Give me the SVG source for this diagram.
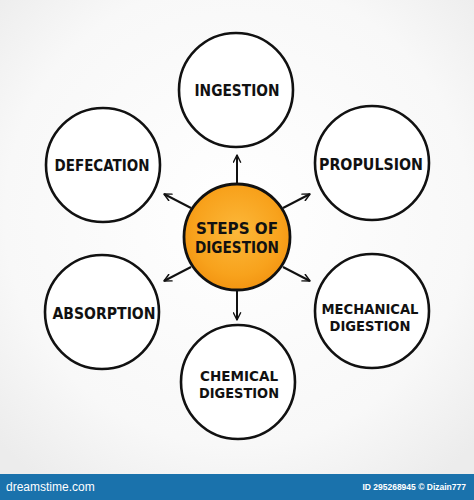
<svg xmlns="http://www.w3.org/2000/svg" width="474" height="500" viewBox="0 0 474 500">
<defs>
<radialGradient id="bg" cx="50%" cy="45%" r="70%">
<stop offset="0" stop-color="#ffffff"/>
<stop offset="0.7" stop-color="#f8f8f8"/>
<stop offset="1" stop-color="#ececec"/>
</radialGradient>
<radialGradient id="org" cx="50%" cy="45%" r="55%">
<stop offset="0" stop-color="#fcb83a"/>
<stop offset="0.75" stop-color="#f8a21c"/>
<stop offset="1" stop-color="#f39512"/>
</radialGradient>
<marker id="ah" viewBox="0 0 10 10" refX="9" refY="5" markerWidth="9" markerHeight="9" markerUnits="userSpaceOnUse" orient="auto">
<path d="M1,1 L9,5 L1,9" fill="none" stroke="#111" stroke-width="1.6" stroke-linecap="round" stroke-linejoin="round"/>
</marker>
</defs>
<style>
.node{fill:#fff;stroke:#111;stroke-width:2.6}
.lbl{font-family:"DejaVu Sans Condensed","Liberation Sans",sans-serif;font-weight:bold;font-size:15px;fill:#111;text-anchor:middle}
.two{font-size:13.5px}
.ctr{font-size:16px}
.con{stroke:#111;stroke-width:2;fill:none;marker-end:url(#ah)}
.bar{font-family:"Liberation Sans",sans-serif;fill:#fff}
</style>
<rect width="474" height="474" fill="url(#bg)"/>
<g id="connectors">
<line class="con" x1="237" y1="184" x2="237" y2="155"/>
<line class="con" x1="237" y1="290" x2="237" y2="320"/>
<line class="con" x1="283" y1="208" x2="310" y2="194"/>
<line class="con" x1="191" y1="208" x2="164" y2="194"/>
<line class="con" x1="191" y1="267" x2="164" y2="281"/>
<line class="con" x1="283" y1="267" x2="310" y2="281"/>
</g>
<g id="center">
<circle cx="237" cy="237" r="53" fill="url(#org)" stroke="#111" stroke-width="2.8"/>
<text class="lbl ctr" x="237" y="234" textLength="82" lengthAdjust="spacingAndGlyphs">STEPS OF</text>
<text class="lbl ctr" x="237" y="253" textLength="84" lengthAdjust="spacingAndGlyphs">DIGESTION</text>
</g>
<g id="ingestion">
<circle class="node" cx="236" cy="90" r="57"/>
<text class="lbl" x="237" y="96" textLength="85" lengthAdjust="spacingAndGlyphs">INGESTION</text>
</g>
<g id="propulsion">
<circle class="node" cx="372" cy="163" r="57"/>
<text class="lbl" x="371" y="170" textLength="104" lengthAdjust="spacingAndGlyphs">PROPULSION</text>
</g>
<g id="defecation">
<circle class="node" cx="103" cy="165" r="57"/>
<text class="lbl" x="102" y="171" textLength="95" lengthAdjust="spacingAndGlyphs">DEFECATION</text>
</g>
<g id="absorption">
<circle class="node" cx="102" cy="312" r="57"/>
<text class="lbl" x="104" y="319" textLength="103" lengthAdjust="spacingAndGlyphs">ABSORPTION</text>
</g>
<g id="mechanical">
<circle class="node" cx="372" cy="311" r="57"/>
<text class="lbl two" x="370" y="314" textLength="97" lengthAdjust="spacingAndGlyphs">MECHANICAL</text>
<text class="lbl two" x="370" y="331" textLength="81" lengthAdjust="spacingAndGlyphs">DIGESTION</text>
</g>
<g id="chemical">
<circle class="node" cx="238" cy="382" r="57"/>
<text class="lbl two" x="239" y="381" textLength="78" lengthAdjust="spacingAndGlyphs">CHEMICAL</text>
<text class="lbl two" x="239" y="398" textLength="80" lengthAdjust="spacingAndGlyphs">DIGESTION</text>
</g>
<rect x="0" y="474" width="474" height="26" fill="#1a72ac"/>
<text class="bar" x="6" y="491" font-size="12">dreamstime.com</text>
<text class="bar" x="466" y="490" font-size="8.5" font-weight="bold" text-anchor="end">ID 295268945 © Dizain777</text>
</svg>
